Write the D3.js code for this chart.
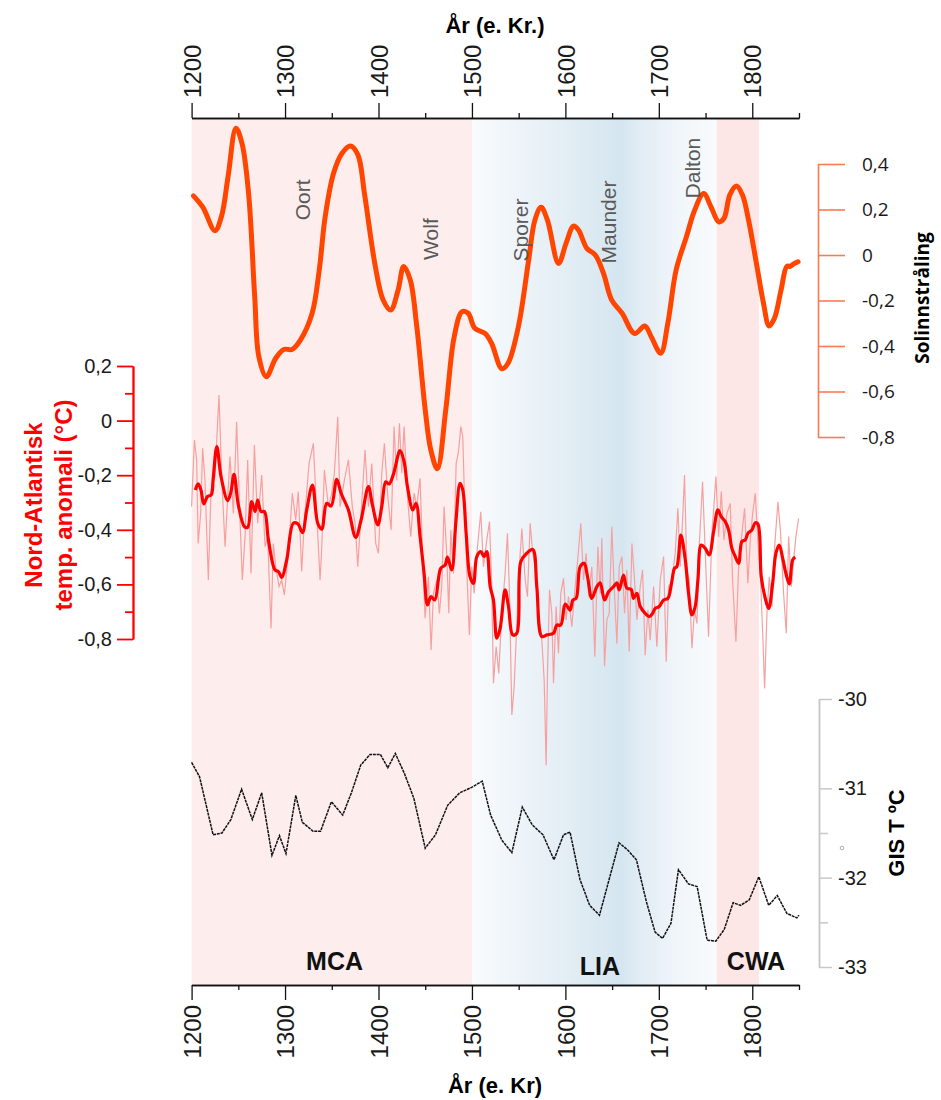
<!DOCTYPE html>
<html>
<head>
<meta charset="utf-8">
<script src="https://cdn.jsdelivr.net/npm/d3@7/dist/d3.min.js"></script>
<style>
  body { margin: 0; background: #fff; }
</style>
</head>
<body>
<script>
// ---- data ----
const yearTicks = [1200, 1300, 1400, 1500, 1600, 1700, 1800];
const yearMinor = [1250, 1350, 1450, 1550, 1650, 1750, 1850];

const periods = [
  { name: "MCA", from: 1200, to: 1500 },
  { name: "LIA", from: 1500, to: 1762 },
  { name: "CWA", from: 1762, to: 1807 }
];
const minima = ["Oort", "Wolf", "Sporer", "Maunder", "Dalton"];

const solarTicks = [0.4, 0.2, 0, -0.2, -0.4, -0.6, -0.8];
const naTicks = [0.2, 0, -0.2, -0.4, -0.6, -0.8];
const naMinor = [0.1, -0.1, -0.3, -0.5, -0.7];
const gisTicks = [-30, -31, -32, -33];
const gisMinor = [-31.5, -32.5];

// solar irradiance anomaly [year, value]
const solar = [[1202,0.26],[1212,0.21],[1225,0.107],[1232,0.17],[1239,0.344],[1247.5,0.557],[1254,0.49],
  [1261,0.27],[1267.5,-0.18],[1272,-0.447],[1280,-0.535],[1290,-0.454],[1298.6,-0.415],[1307.5,-0.415],
  [1316.4,-0.374],[1329,-0.256],[1336.6,-0.066],[1343,0.17],[1352,0.36],[1361,0.447],[1370,0.479],
  [1378,0.44],[1385,0.27],[1396.6,-0.05],[1405,-0.198],[1413,-0.242],[1421,-0.154],[1427,-0.05],
  [1434,-0.11],[1441,-0.315],[1450,-0.68],[1456,-0.857],[1463,-0.94],[1472,-0.68],[1481,-0.36],
  [1489.5,-0.249],[1496,-0.256],[1503,-0.322],[1514,-0.345],[1521,-0.388],[1532,-0.5],[1538.6,-0.476],
  [1549.7,-0.315],[1560.7,-0.022],[1567.4,0.154],[1574,0.21],[1580.7,0.154],[1592.7,-0.037],
  [1600.7,0.051],[1608.7,0.127],[1614,0.11],[1623,0.029],[1632,0.0],[1640.7,-0.08],[1649.6,-0.198],
  [1660.7,-0.256],[1674,-0.345],[1685,-0.312],[1692,-0.36],[1702,-0.432],[1709.6,-0.30],[1718.5,-0.066],
  [1729.5,0.08],[1738.4,0.198],[1748,0.27],[1756,0.21],[1764,0.146],[1769.6,0.16],[1776,0.264],
  [1783,0.303],[1789.5,0.264],[1796,0.154],[1805,-0.05],[1812,-0.212],[1818,-0.312],[1823.7,-0.278],
  [1830.8,-0.154],[1837,-0.05],[1840.6,-0.05],[1844,-0.04],[1849,-0.03]];

// North Atlantic temperature anomaly, smoothed [year, value]
const naSmooth = [[1204,-0.254],[1207,-0.232],[1210,-0.254],[1213,-0.305],[1217,-0.278],[1221,-0.272],
  [1223,-0.217],[1227,-0.095],[1231.5,-0.205],[1238.6,-0.293],[1241.8,-0.266],[1245.4,-0.197],[1250,-0.309],
  [1256.5,-0.388],[1260,-0.391],[1264.3,-0.297],[1267.9,-0.333],[1270.7,-0.291],[1274.3,-0.333],[1277.9,-0.333],
  [1282.2,-0.437],[1289.3,-0.547],[1292.9,-0.553],[1296.4,-0.574],[1301.8,-0.51],[1308.9,-0.376],[1313.6,-0.378],
  [1318.6,-0.41],[1323.2,-0.327],[1329.3,-0.236],[1335,-0.376],[1339.3,-0.398],[1344.6,-0.303],[1349.3,-0.313],
  [1355.3,-0.215],[1360,-0.266],[1367.8,-0.327],[1375.6,-0.428],[1381.4,-0.364],[1389.2,-0.242],[1393.5,-0.309],
  [1399.2,-0.382],[1403.5,-0.315],[1407.8,-0.224],[1411.3,-0.232],[1416,-0.196],[1423.1,-0.11],[1427.4,-0.15],
  [1431,-0.242],[1436.7,-0.327],[1440.2,-0.303],[1444.5,-0.425],[1448.8,-0.56],[1452.4,-0.675],[1456,-0.645],
  [1460.2,-0.657],[1466.6,-0.541],[1471.3,-0.529],[1473.8,-0.5],[1478.4,-0.547],[1482.7,-0.376],[1487.3,-0.23],
  [1490.2,-0.254],[1493.8,-0.413],[1498,-0.572],[1501.6,-0.596],[1505.2,-0.498],[1509.5,-0.48],[1513,-0.498],
  [1515.9,-0.48],[1519.5,-0.608],[1523,-0.657],[1526.6,-0.797],[1530.2,-0.761],[1535.5,-0.62],[1539.1,-0.681],
  [1543.7,-0.785],[1548,-0.779],[1552.3,-0.517],[1558.7,-0.486],[1565.1,-0.472],[1569.4,-0.608],[1574.8,-0.791],
  [1580.1,-0.785],[1587.3,-0.779],[1590.8,-0.749],[1595.1,-0.749],[1599.8,-0.672],[1605.1,-0.694],[1608,-0.657],
  [1611.5,-0.651],[1615.8,-0.535],[1620.1,-0.523],[1623.7,-0.572],[1628.3,-0.651],[1633.7,-0.608],[1637.2,-0.594],
  [1641.9,-0.657],[1646.2,-0.627],[1651.5,-0.608],[1655.1,-0.594],[1657.6,-0.62],[1662.2,-0.566],[1665.8,-0.614],
  [1670.4,-0.618],[1672.9,-0.651],[1676.5,-0.633],[1680.1,-0.681],[1685.4,-0.706],[1689.7,-0.718],[1693.3,-0.706],
  [1696.1,-0.688],[1700.4,-0.681],[1705.1,-0.657],[1709.7,-0.651],[1713.3,-0.602],[1716.8,-0.541],[1719.3,-0.535],
  [1723.6,-0.419],[1728.3,-0.51],[1731.8,-0.633],[1735.4,-0.712],[1738.9,-0.681],[1741.8,-0.584],[1745.4,-0.456],
  [1749.7,-0.468],[1753.9,-0.492],[1758.6,-0.407],[1763.2,-0.327],[1766.8,-0.352],[1771.1,-0.37],[1774.7,-0.401],
  [1778.2,-0.468],[1781.8,-0.498],[1785.4,-0.523],[1788.9,-0.443],[1792.5,-0.437],[1795.3,-0.413],[1799.6,-0.401],
  [1803.2,-0.374],[1806.1,-0.379],[1809.6,-0.572],[1813.9,-0.651],[1817.5,-0.688],[1821.8,-0.596],[1825.3,-0.486],
  [1828.9,-0.456],[1832.5,-0.504],[1836,-0.56],[1839.6,-0.598],[1843.2,-0.51],[1846,-0.5]];

// North Atlantic temperature anomaly, raw [year, value]
const naRaw = [[1200,-0.315],[1203,-0.071],[1205.4,-0.144],[1207,-0.45],[1209.7,-0.34],[1211.8,-0.101],
  [1214.3,-0.218],[1217.9,-0.584],[1220.8,-0.254],[1225,-0.205],[1229.3,0.094],[1232.2,-0.205],[1235.8,-0.462],
  [1241,-0.132],[1244.7,-0.34],[1248.2,-0.004],[1251.8,-0.364],[1254.3,-0.584],[1257.2,-0.425],[1260,-0.144],
  [1263.6,-0.56],[1267.2,-0.089],[1270.7,-0.376],[1275,-0.199],[1278.6,-0.462],[1281.4,-0.425],[1285,-0.761],
  [1287.5,-0.45],[1290,-0.535],[1293.6,-0.608],[1296.4,-0.584],[1299.3,-0.639],[1303.5,-0.486],[1307.8,-0.266],
  [1311.4,-0.364],[1314.2,-0.26],[1317.8,-0.553],[1320.7,-0.364],[1325.7,-0.157],[1330.3,-0.083],[1333.8,-0.34],
  [1337.5,-0.584],[1339.3,-0.462],[1342.1,-0.181],[1346.4,-0.315],[1350,-0.266],[1352.8,-0.193],[1356.4,0.014],
  [1358.9,-0.315],[1363.5,-0.218],[1367.8,-0.144],[1372,-0.315],[1375,-0.376],[1377.8,-0.535],[1380.3,-0.401],
  [1385.6,-0.108],[1389.2,-0.315],[1392.8,-0.157],[1397,-0.45],[1400,-0.486],[1403.5,-0.193],[1406.3,-0.083],
  [1410,-0.279],[1413.5,-0.401],[1416.7,-0.022],[1419.5,-0.218],[1422.4,-0.01],[1424.9,-0.193],[1427.4,-0.022],
  [1431,-0.279],[1434.5,-0.425],[1438.1,-0.266],[1440.9,-0.315],[1444.5,-0.211],[1447.4,-0.523],[1449.9,-0.724],
  [1453.4,-0.572],[1456.3,-0.84],[1458.8,-0.633],[1462.4,-0.584],[1465.2,-0.706],[1467.7,-0.608],[1470.2,-0.315],
  [1473,-0.486],[1475.2,-0.706],[1477.4,-0.401],[1480.2,-0.56],[1483.1,-0.157],[1485.6,-0.114],[1488.1,-0.022],
  [1490.2,-0.059],[1492.7,-0.364],[1495.2,-0.608],[1497.3,-0.785],[1499.8,-0.535],[1502.4,-0.633],[1505.9,-0.462],
  [1509.5,-0.334],[1512.3,-0.535],[1515.9,-0.437],[1518.8,-0.37],[1521.2,-0.608],[1523,-0.962],[1525.9,-0.828],
  [1528.7,-0.926],[1531.9,-0.706],[1535.5,-0.56],[1538,-0.413],[1540.2,-0.633],[1542.7,-1.078],[1545.2,-0.975],
  [1547.3,-0.804],[1549.8,-0.584],[1553.4,-0.395],[1557,-0.584],[1559.4,-0.645],[1562.3,-0.376],[1565.1,-0.486],
  [1567.6,-0.535],[1571.2,-0.706],[1574.8,-0.804],[1577.3,-0.95],[1579.4,-1.262],[1580.9,-0.914],[1583,-0.62],
  [1585.5,-0.706],[1587.3,-0.962],[1590.1,-0.681],[1592.6,-0.852],[1595.1,-0.633],[1598,-0.578],[1600.8,-0.73],
  [1603.3,-0.645],[1606.9,-0.755],[1610.5,-0.608],[1613,-0.517],[1616.5,-0.376],[1619.4,-0.584],[1622.2,-0.486],
  [1625.1,-0.645],[1628.3,-0.535],[1631.5,-0.865],[1634.8,-0.462],[1637.3,-0.633],[1639,-0.431],[1641.9,-0.9],
  [1644.4,-0.73],[1646.9,-0.706],[1649.7,-0.389],[1651.9,-0.584],[1655.1,-0.816],[1657.6,-0.535],[1660.5,-0.498],
  [1663.3,-0.706],[1665.8,-0.547],[1668.3,-0.846],[1671.2,-0.45],[1674,-0.584],[1676.5,-0.73],[1680.1,-0.608],
  [1682.6,-0.547],[1685.4,-0.859],[1688.3,-0.694],[1690.8,-0.804],[1694.4,-0.608],[1697.9,-0.828],[1701.5,-0.584],
  [1705.1,-0.498],[1707.9,-0.883],[1710.4,-0.608],[1714,-0.584],[1717.5,-0.486],[1720.4,-0.321],[1722.9,-0.535],
  [1725.4,-0.364],[1727.5,-0.199],[1730,-0.547],[1732.5,-0.584],[1735.4,-0.834],[1738.2,-0.694],[1740.8,-0.743],
  [1743.2,-0.462],[1746.8,-0.224],[1749.7,-0.486],[1753.2,-0.792],[1756.8,-0.413],[1761.1,-0.205],[1764,-0.425],
  [1766.8,-0.26],[1769.7,-0.437],[1772.9,-0.34],[1776.4,-0.303],[1778.9,-0.584],[1782.5,-0.81],[1785.4,-0.535],
  [1788.2,-0.437],[1791.8,-0.321],[1795.3,-0.596],[1797.9,-0.437],[1800.4,-0.34],[1803.2,-0.266],[1806.1,-0.45],
  [1808.9,-0.584],[1811.4,-0.804],[1813.2,-0.981],[1815.7,-0.706],[1818.2,-0.572],[1821.1,-0.681],[1823.9,-0.462],
  [1827.5,-0.297],[1830.3,-0.413],[1833.5,-0.633],[1836.4,-0.779],[1838.9,-0.425],[1841.8,-0.608],[1844.3,-0.51],
  [1846.7,-0.425],[1849.6,-0.358]];

// Greenland ice sheet temperature [year, °C]
const gis = [[1200,-30.71],[1208.5,-30.87],[1223,-31.52],[1232.5,-31.5],[1242,-31.35],[1253.5,-31.01],[1265,-31.35],
  [1275,-31.05],[1286,-31.75],[1294,-31.53],[1301,-31.73],[1311.5,-31.08],[1318.5,-31.38],[1330,-31.48],[1338,-31.48],
  [1349.6,-31.15],[1361.7,-31.3],[1371,-31.05],[1381,-30.74],[1391,-30.62],[1402,-30.62],[1410,-30.77],[1418,-30.61],
  [1427.6,-30.83],[1437.8,-31.11],[1450,-31.67],[1461,-31.52],[1474,-31.19],[1487,-31.05],[1499.6,-30.99],[1511,-30.92],
  [1520,-31.3],[1532,-31.58],[1542.7,-31.72],[1553.9,-31.21],[1564.6,-31.41],[1576,-31.52],[1587.8,-31.8],[1598,-31.52],
  [1605,-31.49],[1615.6,-32.02],[1626,-32.31],[1636.5,-32.42],[1646.8,-32.02],[1657.4,-31.61],[1666.7,-31.69],
  [1676,-31.8],[1686.7,-32.27],[1696,-32.61],[1704,-32.68],[1713,-32.51],[1721,-31.91],[1731.7,-32.07],[1741,-32.1],
  [1751.7,-32.7],[1761,-32.71],[1770,-32.58],[1779.5,-32.28],[1787.5,-32.31],[1796.7,-32.25],[1807,-31.99],
  [1817.6,-32.31],[1826.8,-32.2],[1837,-32.4],[1847.7,-32.45],[1850,-32.42]];

// ---- layout ----
const W = 941, H = 1100;
const topY = 118, botY = 985;
const arial = "'Liberation Sans', Arial, sans-serif";
const calibri = "'Open Sans', 'Noto Sans', sans-serif";

const x = d3.scaleLinear().domain([1200, 1850]).range([191.6, 799]);
const ySol = d3.scaleLinear().domain([-0.8, 0.4]).range([437, 164]);
const yNA = d3.scaleLinear().domain([-0.8, 0.2]).range([639, 366]);
const yGis = d3.scaleLinear().domain([-33, -30]).range([967, 699]);

const comma = d => d === 0 ? "0" : d.toFixed(1).replace(".", ",");

const svg = d3.select("body").append("svg")
  .attr("width", W).attr("height", H)
  .style("font-family", arial);

// background bands
const defs = svg.append("defs");
const grad = defs.append("linearGradient").attr("id", "lia").attr("x1", 0).attr("x2", 1).attr("y1", 0).attr("y2", 0);
[[0, "#f9fbfd"], [0.28, "#e9f1f7"], [0.45, "#dfebf3"], [0.61, "#d5e6f0"], [0.7, "#e3edf5"], [0.85, "#f1f6fa"], [1, "#f9fbfd"]]
  .forEach(s => grad.append("stop").attr("offset", s[0]).attr("stop-color", s[1]));

svg.append("g").selectAll("rect").data(periods).enter().append("rect")
  .attr("x", d => x(d.from))
  .attr("width", d => x(d.to) - x(d.from))
  .attr("y", topY).attr("height", botY - topY)
  .attr("fill", d => d.name === "LIA" ? "url(#lia)" : (d.name === "CWA" ? "#fde6e6" : "#fdeded"));

// year axes (top and bottom)
function yearAxis(axisFn, y, labelSide) {
  const g = svg.append("g").attr("transform", `translate(0,${y})`);
  g.append("g").call(axisFn(x).tickValues(yearMinor).tickSize(5).tickSizeOuter(0).tickFormat(""));
  const major = g.append("g").call(axisFn(x).tickValues(yearTicks).tickSize(15).tickSizeOuter(0).tickFormat(d => String(d)));
  g.selectAll("path, line").attr("stroke", "#111").attr("stroke-width", 1.3);
  major.selectAll("text")
    .attr("transform", "rotate(-90)")
    .attr("x", labelSide * 20).attr("y", 0).attr("dy", "0.36em")
    .style("text-anchor", labelSide > 0 ? "start" : "end")
    .style("font-size", "24px").style("font-family", arial).attr("fill", "#1a1a1a");
}
yearAxis(d3.axisTop, topY, 1);
yearAxis(d3.axisBottom, botY, -1);

svg.append("text").attr("x", 495).attr("y", 33).attr("text-anchor", "middle")
  .style("font-size", "22px").style("font-weight", "bold").text("År (e. Kr.)");
svg.append("text").attr("x", 495).attr("y", 1093).attr("text-anchor", "middle")
  .style("font-size", "22px").style("font-weight", "bold").text("År (e. Kr)");

// series lines
const line = (ys) => d3.line().x(d => x(d[0])).y(d => ys(d[1]));

svg.append("path").datum(naRaw)
  .attr("d", line(yNA))
  .attr("fill", "none").attr("stroke", "#f6a0a0").attr("stroke-width", 1.2);

svg.append("path").datum(naSmooth)
  .attr("d", line(yNA).curve(d3.curveCatmullRom))
  .attr("fill", "none").attr("stroke", "#ff0000").attr("stroke-width", 3.2)
  .attr("stroke-linejoin", "round");

svg.append("path").datum(gis)
  .attr("d", line(yGis))
  .attr("fill", "none").attr("stroke", "#111").attr("stroke-width", 1.5)
  .attr("stroke-dasharray", "3,0.8");

svg.append("path").datum(solar)
  .attr("d", line(ySol).curve(d3.curveCatmullRom))
  .attr("fill", "none").attr("stroke", "#ff4500").attr("stroke-width", 5)
  .attr("stroke-linejoin", "round").attr("stroke-linecap", "round");

// solar minima names
const minimaPos = [[1319, 0.242], [1456, 0.07], [1552, 0.11], [1646, 0.145], [1736, 0.382]];
svg.append("g").selectAll("text").data(minima).enter().append("text")
  .attr("transform", (d, i) => `translate(${x(minimaPos[i][0])},${ySol(minimaPos[i][1])}) rotate(-90)`)
  .attr("text-anchor", "middle").attr("dy", "0.36em")
  .style("font-size", "21px").attr("fill", "#5a5a5a")
  .text(d => d);

// period names
const periodLabelAt = { MCA: [1353, 970], LIA: [1637, 975], CWA: [1804, 970] };
svg.append("g").selectAll("text").data(periods).enter().append("text")
  .attr("x", d => x(periodLabelAt[d.name][0]))
  .attr("y", d => periodLabelAt[d.name][1])
  .attr("text-anchor", "middle")
  .style("font-size", "25px").style("font-weight", "bold").attr("fill", "#111")
  .text(d => d.name);

// solar axis (right, orange)
const solAx = svg.append("g").attr("transform", "translate(818,0)")
  .call(d3.axisRight(ySol).tickValues(solarTicks).tickSize(27).tickPadding(17).tickSizeOuter(0).tickFormat(comma));
solAx.selectAll("path, line").attr("stroke", "#ff7a50").attr("stroke-width", 1.6);
solAx.selectAll("text").style("font-size", "19px").style("font-family", calibri).attr("fill", "#1a1a1a");
svg.append("text").attr("transform", "translate(922,298) rotate(-90)")
  .attr("text-anchor", "middle").attr("dy", "0.36em")
  .style("font-size", "19px").style("font-weight", "bold").style("font-family", calibri)
  .text("Solinnstråling");

// North Atlantic axis (left, red)
const naG = svg.append("g").attr("transform", "translate(133,0)");
naG.append("g").call(d3.axisLeft(yNA).tickValues(naMinor).tickSize(8).tickSizeOuter(0).tickFormat(""));
naG.append("g").call(d3.axisLeft(yNA).tickValues(naTicks).tickSize(16).tickPadding(5).tickSizeOuter(0).tickFormat(comma));
naG.selectAll("path, line").attr("stroke", "#ff0000").attr("stroke-width", 1.8);
naG.selectAll("text").style("font-size", "20px").style("font-family", arial).attr("fill", "#1a1a1a");
[["Nord-Atlantisk", 33], ["temp. anomali (°C)", 63]].forEach(t => {
  svg.append("text").attr("transform", `translate(${t[1]},505) rotate(-90)`)
    .attr("text-anchor", "middle").attr("dy", "0.36em")
    .style("font-size", "24px").style("font-weight", "bold").attr("fill", "#ff0000")
    .text(t[0]);
});

// GIS axis (right, grey)
const gisG = svg.append("g").attr("transform", "translate(819,0)");
gisG.append("g").call(d3.axisRight(yGis).tickValues(gisMinor).tickSize(9).tickSizeOuter(0).tickFormat(""));
gisG.append("g").call(d3.axisRight(yGis).tickValues(gisTicks).tickSize(13).tickPadding(6).tickSizeOuter(0).tickFormat(d => String(d)));
gisG.selectAll("path, line").attr("stroke", "#c8c8c8").attr("stroke-width", 1.5);
gisG.selectAll("text").style("font-size", "20px").style("font-family", arial).attr("fill", "#1a1a1a");
svg.append("circle").attr("cx", 842).attr("cy", 848).attr("r", 1.8)
  .attr("fill", "none").attr("stroke", "#999").attr("stroke-width", 0.8);
svg.append("text").attr("transform", "translate(896,833) rotate(-90)")
  .attr("text-anchor", "middle").attr("dy", "0.36em")
  .style("font-size", "22px").style("font-weight", "bold")
  .text("GIS T ºC");
</script>
</body>
</html>
